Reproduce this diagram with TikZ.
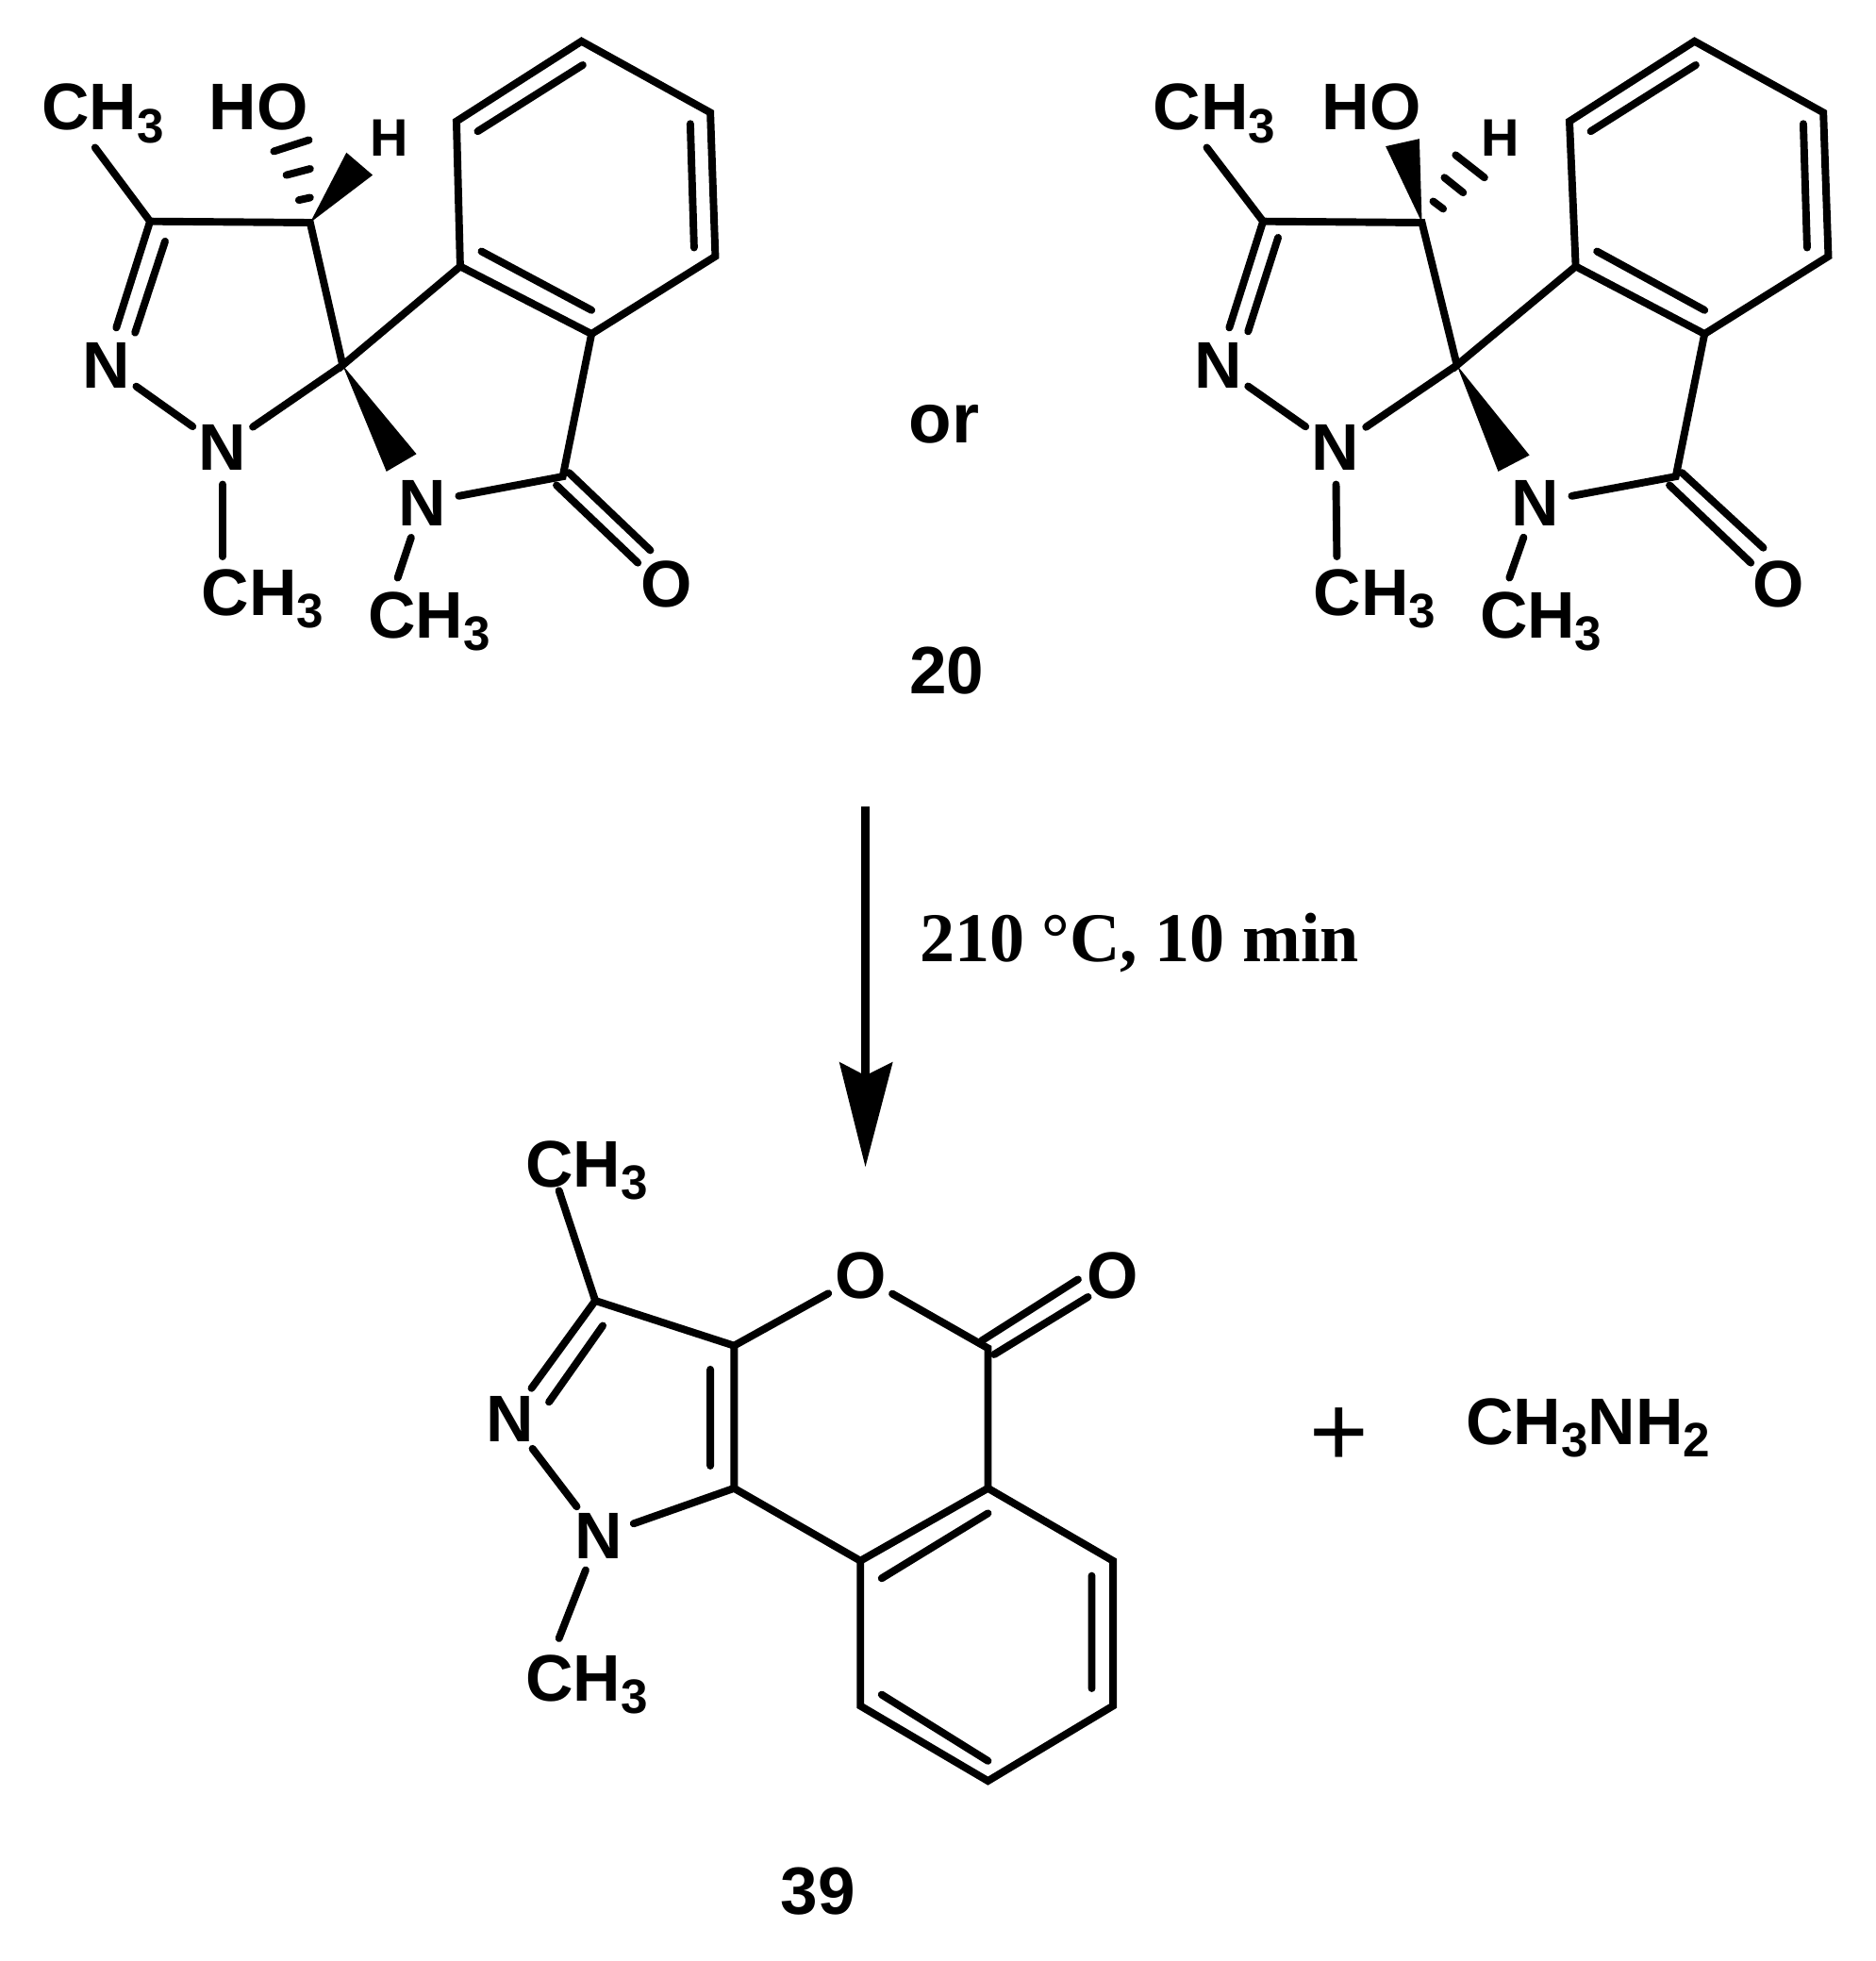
\documentclass[tikz,border=0pt]{standalone}
\usepackage{fontspec}
\setmainfont{Liberation Sans}
\newfontfamily\rmbold{Liberation Serif}[BoldFont={Liberation Serif Bold}]
\newcommand\atomfont{\fontsize{30}{36}\selectfont\bfseries}
\newcommand\smallatomfont{\fontsize{24}{29}\selectfont\bfseries}
\newcommand\numfont{\fontsize{30.5}{36}\selectfont\bfseries}
\newcommand\chemsub[1]{\raisebox{-5.8pt}{\fontsize{22}{26}\selectfont\bfseries #1}}
\tikzset{
  bond/.style={line width=3.4pt,line cap=round,line join=miter,black},
  wedgeb/.style={fill=black,draw=none},
  atom/.style={font=\atomfont,inner sep=0pt,circle,minimum size=33pt},
  grp/.style={font=\atomfont,inner sep=0pt,anchor=base west},
  lab/.style={font=\numfont,inner sep=0pt},
}
\begin{document}
\begin{tikzpicture}[x=0.02cm,y=-0.02cm]
\useasboundingbox (0,0) rectangle (1500,1568);
% ---------- left molecule ----------
\foreach \n/\x/\y in {a1/120/177,a2/248/178,a3/274/292,a4/450/381,
 b1/368/213,b2/473/267,b3/572/205,b4/568/90,b5/465/33,b6/365/97,
 me1/76/118,me2/178/445,me3/318/462,dbn/93/262,dbi1/132/193,dbi2/108/266,
 co1a/455/378,co1b/520/440,co2a/445/388,co2b/510/450,
 i1a/382/105,i1b/466/52,i2a/552/99,i2b/555/198,i3a/385/201,i3b/473/248,
 wa/333/363,wb/309/377,wh1/277/122,wh2/298/140,
 h1a/239/160,h1b/248/158,h2a/229/140,h2b/248/135,h3a/219/121,h3b/247/112}
 {\coordinate (\n) at (\x,\y);}
\node[atom] (an1) at (85,292) {N};
\node[atom] (an2) at (178,358) {N};
\node[atom] (an3) at (338,402) {N};
\node[atom] (ao) at (533,467) {O};
\node[grp] (ach1) at (33,104) {CH\chemsub{3}};
\node[grp] (aho) at (167,104) {HO};
\node[grp,font=\smallatomfont] (ah) at (296,125) {H};
\node[grp] (ach2) at (161,492) {CH\chemsub{3}};
\node[grp] (ach3) at (294,510) {CH\chemsub{3}};
\draw[bond] (me1) -- (a1) -- (a2) -- (a3) -- (b1);
\draw[bond] (a1) -- (dbn) (dbi1) -- (dbi2);
\draw[bond] (an1) -- (an2) -- (a3);
\draw[bond] (an2) -- (me2);
\draw[bond] (an3) -- (me3);
\draw[bond] (an3) -- (a4) -- (b2);
\draw[bond] (co1a) -- (co1b) (co2a) -- (co2b);
\draw[bond] (b1) -- (b2) -- (b3) -- (b4) -- (b5) -- (b6) -- cycle;
\draw[bond] (i1a) -- (i1b) (i2a) -- (i2b) (i3a) -- (i3b);
\fill[wedgeb] (a3) -- (wa) -- (wb) -- cycle;
\fill[wedgeb] (a2) -- (wh1) -- (wh2) -- cycle;
\draw[bond] (h1a) -- (h1b) (h2a) -- (h2b) (h3a) -- (h3b);
% ---------- right molecule ----------
\foreach \n/\x/\y in {c1/1010/177,c2/1137/178,c3/1165/292,c4/1340/381,
 d1/1260/213,d2/1363/267,d3/1462/205,d4/1458/90,d5/1355/33,d6/1255/97,
 ne1/965/118,ne2/1069/445,ne3/1207/462,dcn/983/262,dci1/1022/190,dci2/998/265,
 cp1a/1345/378,cp1b/1410/438,cp2a/1335/388,cp2b/1400/450,
 j1a/1272/105,j1b/1356/52,j2a/1442/99,j2b/1445/198,j3a/1277/201,j3b/1363/248,
 va/1223/364,vb/1198/377,vo1/1108/117,vo2/1135/111,
 k1a/1146/161,k1b/1154/167,k2a/1155/142,k2b/1170/154,k3a/1164/124,k3b/1187/142}
 {\coordinate (\n) at (\x,\y);}
\node[atom] (cn1) at (974,292) {N};
\node[atom] (cn2) at (1068,358) {N};
\node[atom] (cn3) at (1228,402) {N};
\node[atom] (co) at (1422,467) {O};
\node[grp] (cch1) at (922,104) {CH\chemsub{3}};
\node[grp] (cho) at (1057,104) {HO};
\node[grp,font=\smallatomfont] (ch) at (1184,125) {H};
\node[grp] (cch2) at (1050,492) {CH\chemsub{3}};
\node[grp] (cch3) at (1183,510) {CH\chemsub{3}};
\draw[bond] (ne1) -- (c1) -- (c2) -- (c3) -- (d1);
\draw[bond] (c1) -- (dcn) (dci1) -- (dci2);
\draw[bond] (cn1) -- (cn2) -- (c3);
\draw[bond] (cn2) -- (ne2);
\draw[bond] (cn3) -- (ne3);
\draw[bond] (cn3) -- (c4) -- (d2);
\draw[bond] (cp1a) -- (cp1b) (cp2a) -- (cp2b);
\draw[bond] (d1) -- (d2) -- (d3) -- (d4) -- (d5) -- (d6) -- cycle;
\draw[bond] (j1a) -- (j1b) (j2a) -- (j2b) (j3a) -- (j3b);
\fill[wedgeb] (c3) -- (va) -- (vb) -- cycle;
\fill[wedgeb] (c2) -- (vo1) -- (vo2) -- cycle;
\draw[bond] (k1a) -- (k1b) (k2a) -- (k2b) (k3a) -- (k3b);
% ---------- labels and arrow ----------
\node[lab,font={\fontsize{32}{38}\selectfont\bfseries}] (orl) at (755,339) {or};
\node[lab] (n20) at (757,536) {20};
\node[lab] (n39) at (654,1512) {39};
\coordinate (arrs) at (692,645);
\coordinate (arrb) at (692,860);
\coordinate (arrt) at (692,933);
\coordinate (arrl) at (671,849);
\coordinate (arrr) at (714,849);
\draw[line width=4pt,black] (arrs) -- (arrb);
\fill[wedgeb] (arrl) -- (arrb) -- (arrr) -- (arrt) -- cycle;
\node[inner sep=0pt,anchor=base west,font={\rmbold\fontsize{31.8}{38}\selectfont\bfseries}] (cond) at (735,769) {210 °C, 10 min};
% ---------- product ----------
\foreach \n/\x/\y in {e1/476/1040,e2/587/1076,e3/587/1190,e4/790/1078,e5/790/1190,
 f1/688/1248,f2/890/1248,f3/890/1364,f4/790/1424,f5/688/1364,
 pm1/447/952,pm2/447/1310,edbn/425/1110,ei1/482/1060,ei2/439/1121,
 ed1/568/1095,ed2/568/1172,eo1a/785/1072,eo1b/862/1023,eo2a/795/1083,eo2b/870/1037,
 fi1a/705/1262,fi1b/790/1210,fi2a/873/1260,fi2b/873/1350,fi3a/705/1355,fi3b/790/1408}
 {\coordinate (\n) at (\x,\y);}
\node[atom] (pn1) at (408,1135) {N};
\node[atom] (pn2) at (479,1228) {N};
\node[atom] (po1) at (688,1020) {O};
\node[atom] (po2) at (890,1020) {O};
\node[grp] (pch1) at (420,949) {CH\chemsub{3}};
\node[grp] (pch2) at (420,1360) {CH\chemsub{3}};
\node[grp] (ch3nh2) at (1172,1155) {CH\chemsub{3}NH\chemsub{2}};
\node[inner sep=0pt,font={\fontsize{46}{54}\selectfont}] (plus) at (1071,1149) {+};
\draw[bond] (pm1) -- (e1) -- (e2) -- (e3);
\draw[bond] (e1) -- (edbn) (ei1) -- (ei2) (ed1) -- (ed2);
\draw[bond] (e2) -- (po1);
\draw[bond] (po1) -- (e4) -- (e5);
\draw[bond] (eo1a) -- (eo1b) (eo2a) -- (eo2b);
\draw[bond] (pn1) -- (pn2) -- (e3) -- (f1);
\draw[bond] (pn2) -- (pm2);
\draw[bond] (f1) -- (e5) -- (f2) -- (f3) -- (f4) -- (f5) -- cycle;
\draw[bond] (fi1a) -- (fi1b) (fi2a) -- (fi2b) (fi3a) -- (fi3b);
\end{tikzpicture}
\end{document}
